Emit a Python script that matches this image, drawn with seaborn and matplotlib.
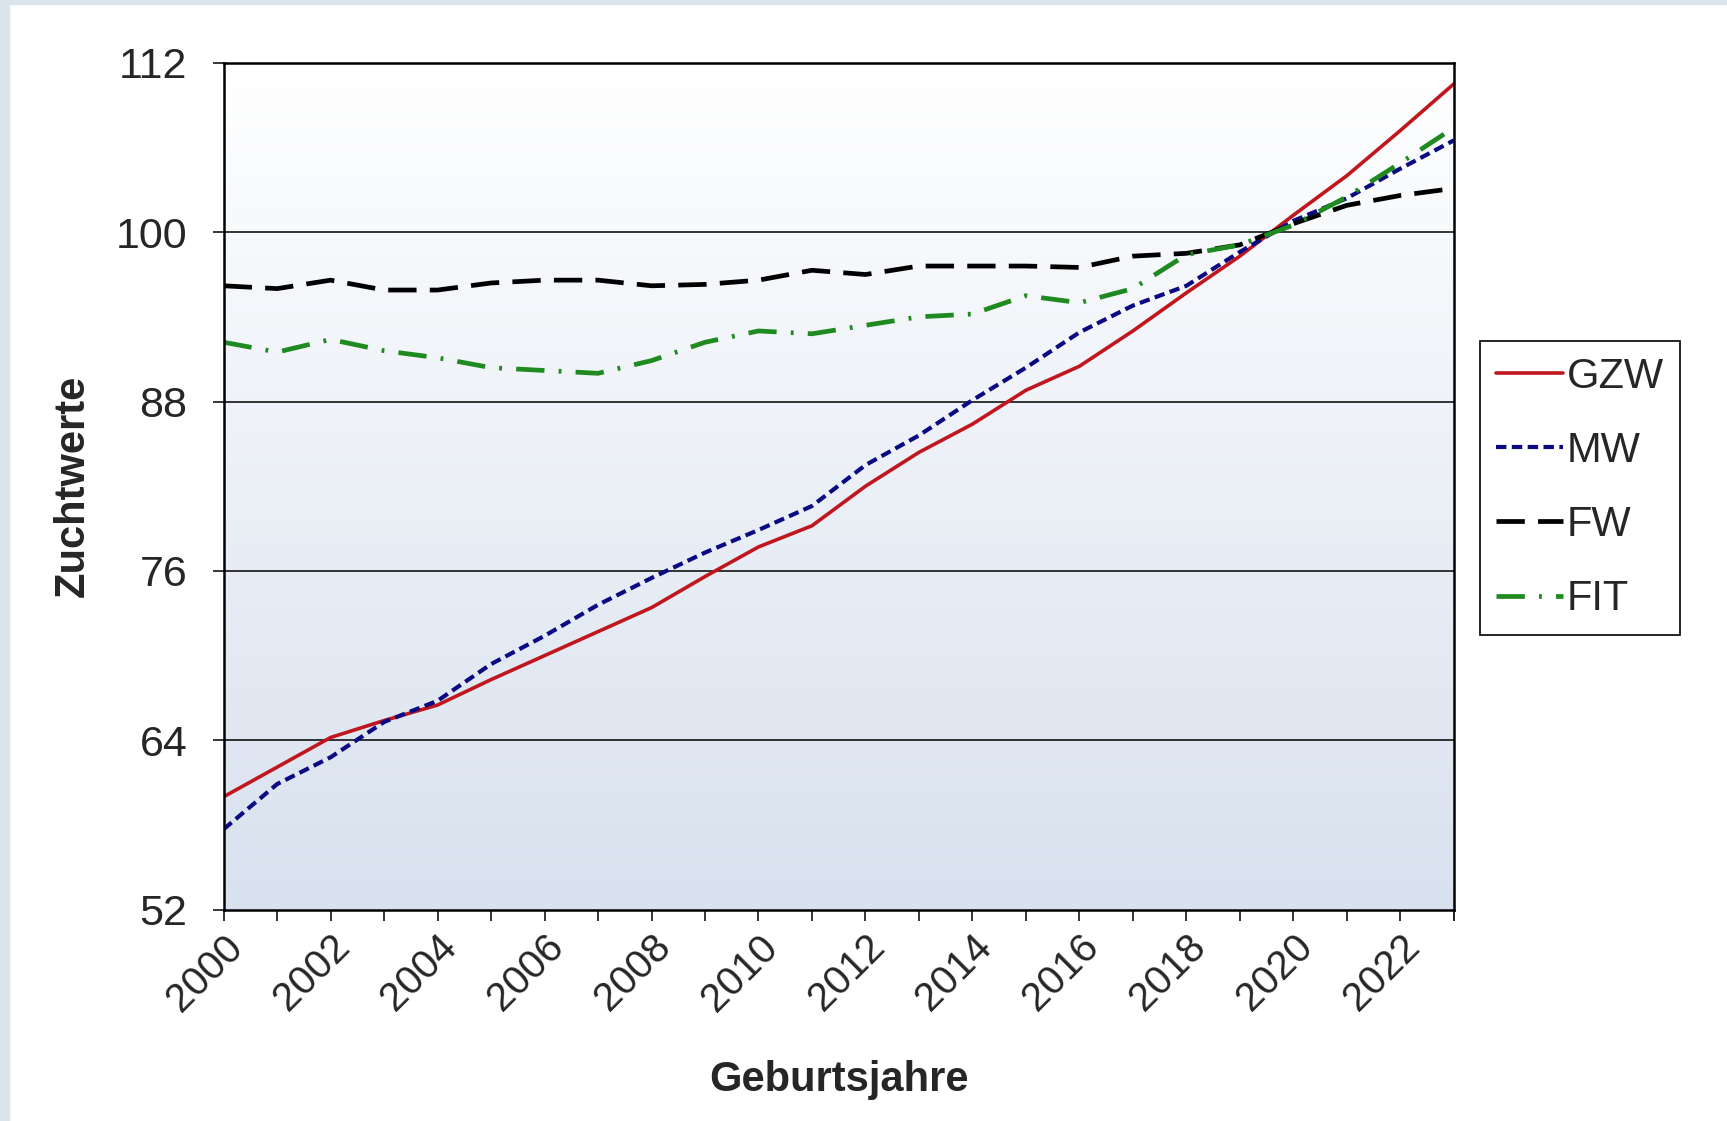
import numpy as np
import pandas as pd
import matplotlib
matplotlib.use('Agg')
import matplotlib.pyplot as plt
import seaborn as sns
from matplotlib.patches import Rectangle

# Daten
jahre = list(range(2000, 2024))
gzw = [60.0, 62.1, 64.2, 65.4, 66.5, 68.3, 70.0, 71.7, 73.4, 75.6, 77.7, 79.2,
       82.0, 84.4, 86.4, 88.8, 90.5, 93.0, 95.7, 98.3, 101.2, 104.0, 107.2, 110.5]
mw = [57.7, 60.9, 62.8, 65.3, 66.8, 69.4, 71.4, 73.6, 75.5, 77.3, 78.9, 80.6,
      83.5, 85.6, 88.1, 90.4, 92.9, 94.8, 96.2, 98.6, 100.8, 102.4, 104.5, 106.5]
fw = [96.2, 96.0, 96.6, 95.9, 95.9, 96.4, 96.6, 96.6, 96.2, 96.3, 96.6, 97.3,
      97.0, 97.6, 97.6, 97.6, 97.5, 98.3, 98.5, 99.1, 100.6, 101.9, 102.6, 103.1]
fit = [92.2, 91.5, 92.4, 91.6, 91.1, 90.4, 90.2, 90.0, 90.9, 92.2, 93.0, 92.8,
       93.4, 94.0, 94.2, 95.5, 95.0, 96.0, 98.4, 99.1, 100.5, 102.5, 104.9, 107.4]

y_ticks = [52, 64, 76, 88, 100, 112]
x_labels = list(range(2000, 2024, 2))

df = pd.DataFrame({'Jahr': jahre, 'GZW': gzw, 'MW': mw, 'FW': fw, 'FIT': fit})

sns.set_style('white')
plt.rcParams['font.family'] = ['Liberation Sans', 'DejaVu Sans']

fig = plt.figure(figsize=(17.27, 11.21), dpi=100)
fig.patch.set_facecolor('white')

# hellblauer Rand links/oben (Screenshot-Rahmen)
fig.patches.append(Rectangle((0, 0), 9 / 1727, 1, transform=fig.transFigure,
                             color='#dae5eb', zorder=0))
fig.patches.append(Rectangle((0, 1 - 4 / 1121), 1, 4 / 1121, transform=fig.transFigure,
                             color='#dae5eb', zorder=0))

ax = fig.add_axes([0.1295, 0.1885, 0.8418 - 0.1295, 0.944 - 0.1885])

# Farbverlauf im Diagrammbereich
grad = np.linspace(0, 1, 256).reshape(-1, 1)
top = np.array([1.0, 1.0, 1.0])
bottom = np.array([0xd8, 0xe1, 0xee]) / 255
img = top * (1 - grad[..., None]) + bottom * grad[..., None]
img = img.reshape(256, 1, 3)
ax.imshow(img, extent=[2000, 2023, 52, 112], aspect='auto', origin='upper', zorder=0)

for yv in y_ticks[1:-1]:
    ax.axhline(yv, color='black', lw=1.1, zorder=1)

sns.lineplot(data=df, x='Jahr', y='GZW', ax=ax, color='#c0161e', lw=2.6,
             label='GZW', zorder=3)
sns.lineplot(data=df, x='Jahr', y='MW', ax=ax, color='#0a0a82', lw=3.0,
             linestyle=(0, (2.5, 1.3)), label='MW', zorder=3)
sns.lineplot(data=df, x='Jahr', y='FW', ax=ax, color='black', lw=3.4,
             linestyle=(0, (6, 2.8)), label='FW', zorder=3)
sns.lineplot(data=df, x='Jahr', y='FIT', ax=ax, color='#1f8a1f', lw=3.4,
             linestyle=(0, (6, 3, 0.6, 3)), label='FIT', zorder=3)

ax.set_xlim(2000, 2023)
ax.set_ylim(52, 112)
ax.set_yticks(y_ticks)
ax.set_xticks(x_labels)
ax.set_xticks(jahre + [2023], minor=True)
ax.set_xticklabels([str(j) for j in x_labels], rotation=45, ha='right',
                   rotation_mode='anchor', fontsize=29)
ax.tick_params(axis='y', labelsize=31, length=8, width=1.3, direction='out', left=True, pad=18)
ax.tick_params(axis='x', which='both', length=8, width=1.3, direction='out', bottom=True, pad=5)

for s in ax.spines.values():
    s.set_color('black')
    s.set_linewidth(1.8)
    s.set_zorder(4)

ax.set_xlabel('Geburtsjahre', fontsize=30, fontweight='bold', labelpad=30)
ax.set_ylabel('Zuchtwerte', fontsize=30, fontweight='bold', labelpad=17)

leg = ax.legend(loc='upper left', bbox_to_anchor=(0.857, 0.696),
                bbox_transform=fig.transFigure, borderaxespad=0,
                fontsize=30, frameon=True, fancybox=False, shadow=False,
                handlelength=1.6, handletextpad=0.1, labelspacing=0.82,
                borderpad=0.38)
leg.get_frame().set_edgecolor('black')
leg.get_frame().set_linewidth(1.2)
leg.get_frame().set_facecolor('white')
leg.get_frame().set_alpha(1)

fig.savefig('out.png', dpi=100)
